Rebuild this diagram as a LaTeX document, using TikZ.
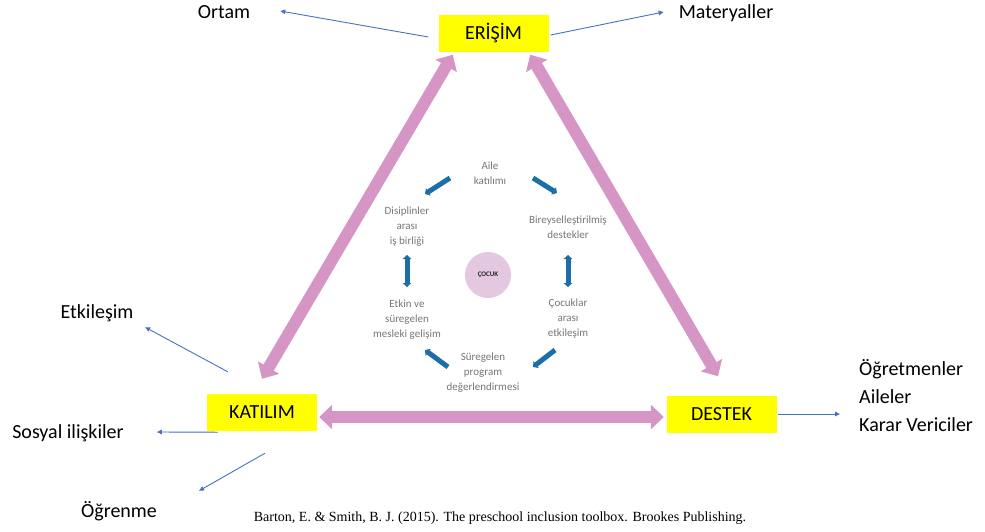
\documentclass[tikz,border=0pt]{standalone}
\usepackage{fontspec}
\setmainfont{Carlito}
\newfontfamily\citefont{Liberation Serif}
\usetikzlibrary{arrows.meta,positioning,calc}

\definecolor{keyyellow}{RGB}{255,255,0}
\definecolor{pinkarrow}{RGB}{214,150,197}
\definecolor{linkblue}{RGB}{68,114,196}
\definecolor{cycleblue}{RGB}{28,110,168}
\definecolor{steptext}{RGB}{118,118,118}
\definecolor{childpink}{RGB}{228,200,224}

\begin{document}
\begin{tikzpicture}[
    x=1pt, y=-1pt,
    keybox/.style={rectangle, fill=keyyellow, minimum width=110pt, minimum height=37pt, font=\fontsize{20}{24}\selectfont},
    outlabel/.style={font=\fontsize{20}{28}\selectfont, inner sep=1pt, text height=14pt, text depth=4pt},
    stepnote/.style={text=steptext, align=center, font=\fontsize{11}{15}\selectfont, inner sep=1pt},
    bigarrow/.style={{Triangle[length=13pt,width=24pt]}-{Triangle[length=13pt,width=24pt]}, draw=pinkarrow, line width=12pt},
    link/.style={-{Triangle[length=5pt,width=4.5pt]}, draw=linkblue, line width=0.9pt},
    cyc/.style={-{Triangle[length=4pt,width=8.5pt]}, draw=cycleblue, line width=5pt},
    cycboth/.style={cyc, {Triangle[length=4pt,width=8.5pt]}-{Triangle[length=4pt,width=8.5pt]}}
]
\useasboundingbox (0,0) rectangle (985,531);

% Main boxes
\node[keybox] (erisim) at (493.5,33) {ERİŞİM};
\node[keybox] (katilim) at (262,412.5) {KATILIM};
\node[keybox] (destek) at (721.5,414) {DESTEK};

% Outer labels
\node[outlabel] (ortam) at (224,13) {Ortam};
\node[outlabel] (materyal) at (726,13) {Materyaller};
\node[outlabel] (etkilesim) at (97,313) {Etkileşim};
\node[outlabel] (sosyal) at (68,433) {Sosyal ilişkiler};
\node[outlabel] (ogrenme) at (119,512) {Öğrenme};
\node[outlabel, text height=, text depth=, align=left, anchor=west] (paydas) at (858,396) {Öğretmenler\\Aileler\\Karar Vericiler};

% Child in the middle
\node[circle, fill=childpink, minimum size=46pt, inner sep=0pt, font=\fontsize{7}{8}\selectfont\bfseries, text=black!85] (cocuk) at (488,275) {ÇOCUK};

% Cycle steps
\node[stepnote] (aile) at (490,173) {Aile\\katılımı};
\node[stepnote] (bireysel) at (568,227) {Bireyselleştirilmiş\\destekler};
\node[stepnote] (cocuklar) at (568,319) {Çocuklar\\arası\\etkileşim};
\node[stepnote] (suregelen) at (483,373) {Süregelen\\program\\değerlendirmesi};
\node[stepnote] (etkin) at (407,320) {Etkin ve\\süregelen\\mesleki gelişim};
\node[stepnote] (disiplin) at (407,227) {Disiplinler\\arası\\iş birliği};

% Source
\node[font=\citefont\fontsize{14}{16}\selectfont] (kaynak) at (500,518) {Barton, E. \& Smith, B. J. (2015). The preschool inclusion toolbox. Brookes Publishing.};

% Triangle arrows
\draw[bigarrow] ([shift={(0,-15)}]katilim.north) -- ([shift={(14.5,3)}]erisim.south west);
\draw[bigarrow] ([shift={(-18.5,3)}]erisim.south east) -- ([shift={(-3.5,-19)}]destek.north);
\draw[bigarrow] ([shift={(2,4.5)}]katilim.east) -- ([shift={(-2.5,3)}]destek.west);

% Outer arrows
\draw[link] ([shift={(-10,4)}]erisim.west) -- ([shift={(29,-2)}]ortam.east);
\draw[link] ([shift={(2,2)}]erisim.east) -- ([shift={(-14,-1)}]materyal.west);
\draw[link] ([shift={(21,-22)}]katilim.north west) -- ([shift={(10.5,4)}]etkilesim.south east);
\draw[link] ([shift={(11,1)}]katilim.south west) -- ([shift={(32,-1)}]sosyal.east);
\draw[link] ([shift={(3,22)}]katilim.south) -- ([shift={(41,-11)}]ogrenme.north east);
\draw[link, shorten <=1.5pt, shorten >=18pt] (destek.east) -- (destek.east -| paydas.west);

% Cycle arrows
\draw[cyc] ([shift={(-40,5)}]aile.center) -- ([shift={(18,-33)}]disiplin.center);
\draw[cyc] ([shift={(43,5)}]aile.center) -- ([shift={(-11,-34)}]bireysel.center);
\draw[cycboth] ([shift={(0,28)}]bireysel.center) -- ([shift={(0,-32)}]cocuklar.center);
\draw[cyc] ([shift={(-13,31)}]cocuklar.center) -- ([shift={(50,-6)}]suregelen.center);
\draw[cyc] ([shift={(-35,-6)}]suregelen.center) -- ([shift={(18,30)}]etkin.center);
\draw[cycboth] ([shift={(0,-33)}]etkin.center) -- ([shift={(0,28)}]disiplin.center);

\end{tikzpicture}
\end{document}
